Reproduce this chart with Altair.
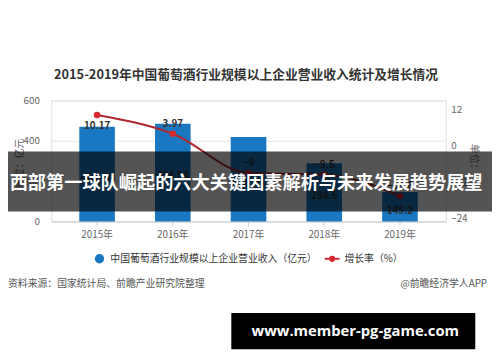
import altair as alt
import pandas as pd

# ---- data ----
years = ["2015年", "2016年", "2017年", "2018年", "2019年"]
revenue = [469.64, 484.54, 418.35, 288.6, 145.2]
growth = [10.17, 3.97, -9, -9.5, -16.6]

title_text = "2015-2019年中国葡萄酒行业规模以上企业营业收入统计及增长情况"
left_title = "单位：亿元"
right_title = "单位：%"
legend_bar = "中国葡萄酒行业规模以上企业营业收入（亿元）"
legend_line = "增长率（%）"
source_text = "资料来源：国家统计局、前瞻产业研究院整理"
brand_text = "@前瞻经济学人APP"
banner_text = "西部第一球队崛起的六大关键因素解析与未来发展趋势展望"
site_text = "www.member-pg-game.com"

FONT = "Noto Sans CJK SC"
BLUE = "#1a78c2"
RED_LINE = "#ad272c"
RED_DOT = "#d8282f"

df = pd.DataFrame({"year": years, "revenue": revenue, "growth": growth})

xenc = alt.X(
    "year:N", sort=years,
    scale=alt.Scale(paddingInner=0.53, paddingOuter=0.37),
    axis=alt.Axis(title=None, labelAngle=0, labelFontSize=10, labelColor="#666",
                  labelFont=FONT, domainColor="#cccccc", tickColor="#cccccc",
                  tickSize=4, labelPadding=4, grid=False),
)

yleft = alt.Y(
    "revenue:Q",
    scale=alt.Scale(domain=[0, 600]),
    axis=alt.Axis(values=[0, 200, 400, 600], title=None, grid=True, gridColor="#e6e6e6",
                  domain=False, ticks=False, labelPadding=12, labelColor="#666",
                  labelFontSize=10, labelFont=FONT),
)

bars = alt.Chart(df).mark_bar(color=BLUE).encode(x=xenc, y=yleft)

bar_labels = alt.Chart(df).transform_calculate(mid="datum.revenue / 2").mark_text(
    font=FONT, fontSize=10, fontWeight=600, color="#333", baseline="middle", dy=4
).encode(x=alt.X("year:N", sort=years), y=alt.Y("mid:Q", scale=alt.Scale(domain=[0, 600])),
         text=alt.Text("revenue:Q"))

left_layer = alt.layer(bars, bar_labels)

yright = alt.Y(
    "growth:Q",
    scale=alt.Scale(domain=[-24, 12]),
    axis=alt.Axis(orient="right", values=[-24, -12, 0, 12], title=None, grid=False,
                  domain=False, ticks=True, tickColor="#e6e6e6", tickSize=0,
                  labelPadding=5, labelColor="#666", labelFontSize=10, labelFont=FONT),
)

line = alt.Chart(df).mark_line(color=RED_LINE, strokeWidth=2, interpolate="monotone").encode(
    x=alt.X("year:N", sort=years), y=yright)
dots = alt.Chart(df).mark_circle(color=RED_DOT, size=45, opacity=1).encode(
    x=alt.X("year:N", sort=years), y=alt.Y("growth:Q"))
g_first = alt.Chart(df).transform_filter(alt.datum.year == years[0]).mark_text(
    font=FONT, fontSize=10, fontWeight=600, color="#333", dy=11
).encode(x=alt.X("year:N", sort=years), y=alt.Y("growth:Q"), text=alt.Text("growth:Q"))
g_rest = alt.Chart(df).transform_filter(alt.datum.year != years[0]).mark_text(
    font=FONT, fontSize=10, fontWeight=600, color="#333", dy=-10
).encode(x=alt.X("year:N", sort=years), y=alt.Y("growth:Q"), text=alt.Text("growth:Q"))

right_layer = alt.layer(line, dots, g_first, g_rest)

# ---- decorations (text, legend, overlays) ----
one = pd.DataFrame({"t": [title_text]})
title = alt.Chart(one).mark_text(font=FONT, fontSize=13, fontWeight="bold", color="#333",
                                 align="center", baseline="middle").encode(
    x=alt.value(198), y=alt.value(-26), text="t:N")

lt = alt.Chart(pd.DataFrame({"t": [left_title]})).mark_text(
    font=FONT, fontSize=10, color="#666", angle=270, align="center", baseline="middle").encode(
    x=alt.value(-32), y=alt.value(64), text="t:N")
rt = alt.Chart(pd.DataFrame({"t": [right_title]})).mark_text(
    font=FONT, fontSize=10, color="#666", angle=90, align="center", baseline="middle").encode(
    x=alt.value(430), y=alt.value(64), text="t:N")

leg_dot = alt.Chart(pd.DataFrame({"t": [legend_bar]})).mark_circle(color=BLUE, size=90, opacity=1).encode(
    x=alt.value(49), y=alt.value(161))
leg_t1 = alt.Chart(pd.DataFrame({"t": [legend_bar]})).mark_text(
    font=FONT, fontSize=10, color="#333", align="left", baseline="middle").encode(
    x=alt.value(60), y=alt.value(161), text="t:N")
leg_line = alt.Chart(pd.DataFrame({"t": [legend_line]})).mark_rule(color=RED_DOT, strokeWidth=2).encode(
    x=alt.value(278), x2=alt.value(293), y=alt.value(161))
leg_ldot = alt.Chart(pd.DataFrame({"t": [legend_line]})).mark_circle(color=RED_DOT, size=40, opacity=1).encode(
    x=alt.value(285.5), y=alt.value(161))
leg_t2 = alt.Chart(pd.DataFrame({"t": [legend_line]})).mark_text(
    font=FONT, fontSize=10, color="#333", align="left", baseline="middle").encode(
    x=alt.value(298), y=alt.value(161), text="t:N")

src = alt.Chart(pd.DataFrame({"t": [source_text]})).mark_text(
    font=FONT, fontSize=10, color="#555", align="left", baseline="middle").encode(
    x=alt.value(-44), y=alt.value(187), text="t:N")
brand = alt.Chart(pd.DataFrame({"t": [brand_text]})).mark_text(
    font=FONT, fontSize=10, color="#555", align="right", baseline="middle").encode(
    x=alt.value(443), y=alt.value(187), text="t:N")

banner_rect = alt.Chart(pd.DataFrame({"t": [banner_text]})).mark_rect(color="#000", opacity=0.67).encode(
    x=alt.value(-52), x2=alt.value(448), y=alt.value(52), y2=alt.value(113))
banner = alt.Chart(pd.DataFrame({"t": [banner_text]})).mark_text(
    font=FONT, fontSize=18.5, fontWeight="bold", color="#ffffff", align="center", baseline="middle").encode(
    x=alt.value(198), y=alt.value(84), text="t:N")

site_rect = alt.Chart(pd.DataFrame({"t": [site_text]})).mark_rect(color="#000", opacity=1).encode(
    x=alt.value(183), x2=alt.value(431), y=alt.value(216), y2=alt.value(253))
site = alt.Chart(pd.DataFrame({"t": [site_text]})).mark_text(
    font="Open Sans", fontSize=15, fontWeight="bold", color="#ffffff", align="center", baseline="middle").encode(
    x=alt.value(309), y=alt.value(234), text="t:N")

deco = alt.layer(title, lt, rt, leg_dot, leg_t1, leg_line, leg_ldot, leg_t2, src, brand,
                 banner_rect, banner, site_rect, site)

chart = alt.layer(left_layer, right_layer, deco).resolve_scale(y="independent").properties(
    width=401, height=123,
    autosize=alt.AutoSizeParams(type="none"),
    padding={"left": 44, "top": 91, "right": 47, "bottom": 140},
).configure_view(stroke=None).configure(background="white")

chart.save("out.html", embed_options={"renderer": "svg", "actions": False})
